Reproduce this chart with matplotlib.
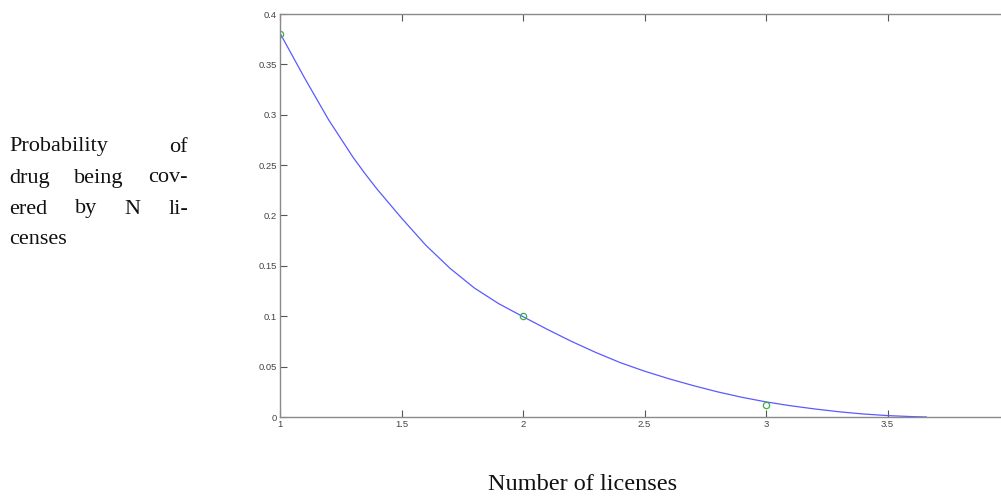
import matplotlib
matplotlib.use("Agg")
import matplotlib.pyplot as plt

# fitted curve
curve_x = [1.0, 1.05, 1.1, 1.15, 1.2, 1.25, 1.3, 1.35, 1.4, 1.5, 1.6, 1.7, 1.8, 1.9, 2.0,
           2.1, 2.2, 2.3, 2.4, 2.5, 2.6, 2.7, 2.8, 2.9, 3.0, 3.1, 3.2, 3.3, 3.4, 3.5, 3.6, 3.66]
curve_y = [0.381, 0.359, 0.337, 0.316, 0.295, 0.2765, 0.258, 0.2415, 0.226, 0.1975, 0.1705,
           0.1475, 0.128, 0.1125, 0.0996, 0.087, 0.075, 0.064, 0.054, 0.0455, 0.038, 0.0312,
           0.025, 0.0196, 0.015, 0.0112, 0.008, 0.0052, 0.003, 0.0014, 0.0004, 0.0]

# observed points
obs_x = [1, 2, 3]
obs_y = [0.38, 0.10, 0.012]

xticks = [1, 1.5, 2, 2.5, 3, 3.5]
xticklabels = ["1", "1.5", "2", "2.5", "3", "3.5"]
yticks = [0, 0.05, 0.1, 0.15, 0.2, 0.25, 0.3, 0.35, 0.4]
yticklabels = ["0", "0.05", "0.1", "0.15", "0.2", "0.25", "0.3", "0.35", "0.4"]

W, H = 1001, 498
fig = plt.figure(figsize=(W / 100, H / 100), dpi=100)
ax = fig.add_axes([280 / W, 81 / H, 729 / W, 403 / H])

ax.plot(curve_x, curve_y, color="#5a5aff", lw=0.9)
ax.plot(obs_x, obs_y, "o", mfc="none", mec="#3cb043", ms=4.5, mew=0.9)

ax.set_xlim(1, 4)
ax.set_ylim(0, 0.4)
ax.set_xticks(xticks)
ax.set_xticklabels(xticklabels)
ax.set_yticks(yticks)
ax.set_yticklabels(yticklabels)
ax.tick_params(direction="in", length=5, width=0.8, color="#555555",
               labelsize=6.8, labelcolor="#444444", top=True, right=True, pad=2)
for lab in ax.get_xticklabels() + ax.get_yticklabels():
    lab.set_family("Liberation Sans")
for s in ax.spines.values():
    s.set_color("#8a8a8a")
    s.set_linewidth(1.0)

serif = "Liberation Serif"
fig.text(583 / W, 1 - 484 / H, "Number of licenses", ha="center", va="center",
         family=serif, fontsize=17.5, color="#111111")

# justified paragraph on the left
lines = [["Probability", "of"], ["drug", "being", "cov-"],
         ["ered", "by", "N", "li-"], ["censes"]]
left, right = 9, 188
fig.canvas.draw()
r = fig.canvas.get_renderer()
for i, words in enumerate(lines):
    y = 1 - (147 + 31 * i) / H
    ts = [fig.text(0, y, w, family=serif, fontsize=16, color="#111111",
                   va="center") for w in words]
    widths = [t.get_window_extent(r).width for t in ts]
    if i == len(lines) - 1:
        gap = 6
    else:
        gap = (right - left - sum(widths)) / (len(words) - 1)
    x = left
    for t, w in zip(ts, widths):
        t.set_x(x / W)
        x += w + gap

fig.savefig("out.png", dpi=100)
